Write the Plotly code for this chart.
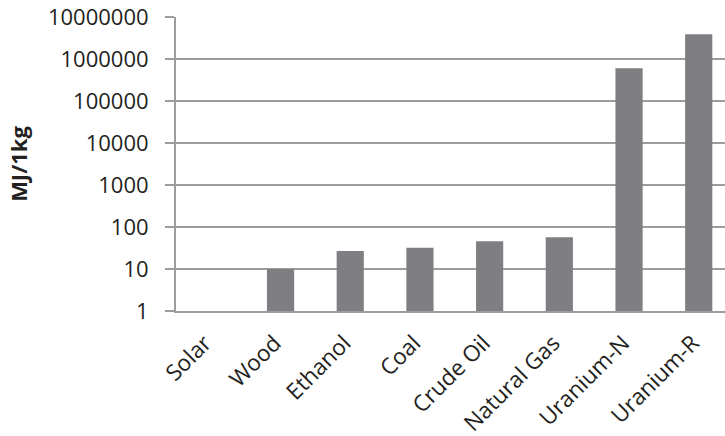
import plotly.graph_objects as go

# Energy density by fuel source (MJ per kg), log scale
fuels = ["Solar", "Wood", "Ethanol", "Coal", "Crude Oil", "Natural Gas", "Uranium-N", "Uranium-R"]
mj_per_kg = [None, 10, 27, 32, 46, 57, 600000, 3900000]

y_tickvals = [1, 10, 100, 1000, 10000, 100000, 1000000, 10000000]
y_ticktext = ["1", "10", "100", "1000", "10000", "100000", "1000000", "10000000"]

grid_color = "#9c9c9c"
font_family = "Open Sans, Lato, sans-serif"

fig = go.Figure(
    go.Bar(
        x=fuels,
        y=mj_per_kg,
        marker=dict(color="#7f7f83", line=dict(width=0)),
        width=0.39,
    )
)

fig.update_layout(
    width=725,
    height=436,
    margin=dict(l=176, r=0, t=17, b=125),
    paper_bgcolor="white",
    plot_bgcolor="white",
    showlegend=False,
    font=dict(family=font_family, color="#231f20", size=22),
)

fig.update_xaxes(
    range=[-0.5, 7.377],
    tickangle=-45,
    showgrid=False,
    showline=True,
    linecolor=grid_color,
    linewidth=2,
    ticks="",
    tickfont=dict(size=22.5),
    ticklabelstandoff=8,
    ticklabelshift=-6,
    automargin=False,
)

fig.update_yaxes(
    type="log",
    range=[0, 7],
    tickvals=y_tickvals,
    ticktext=y_ticktext,
    showgrid=True,
    gridcolor=grid_color,
    gridwidth=2,
    showline=True,
    linecolor=grid_color,
    linewidth=2,
    ticks="outside",
    ticklen=9,
    tickwidth=2,
    tickcolor=grid_color,
    ticklabelstandoff=12,
    tickfont=dict(size=22),
    zeroline=False,
    automargin=False,
    title=dict(text="<b>MJ/1kg</b>", font=dict(size=22), standoff=14),
)

fig.write_html("out.html")
